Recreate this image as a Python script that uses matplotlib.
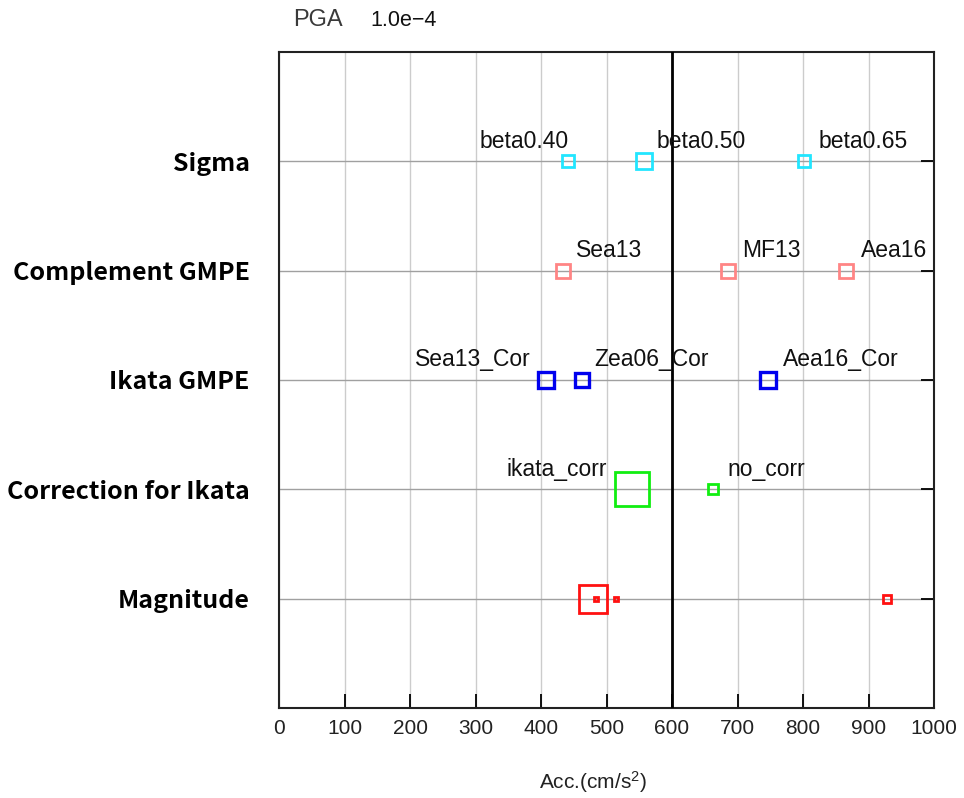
import matplotlib
matplotlib.use('Agg')
import matplotlib.pyplot as plt

plt.rcParams['font.family'] = ['Liberation Sans', 'DejaVu Sans']
plt.rcParams['mathtext.fontset'] = 'custom'
plt.rcParams['mathtext.rm'] = 'Liberation Sans'
plt.rcParams['mathtext.it'] = 'Liberation Sans'

# rows of the chart, bottom to top
groups = ['Magnitude', 'Correction for Ikata', 'Ikata GMPE', 'Complement GMPE', 'Sigma']

sigma_names = ['beta0.40', 'beta0.50', 'beta0.65']
sigma_vals = [441, 558, 801]

comp_names = ['Sea13', 'MF13', 'Aea16']
comp_vals = [433, 685, 866]

ikata_names = ['Sea13_Cor', 'Zea06_Cor', 'Aea16_Cor']
ikata_vals = [407, 463, 746]

corr_names = ['ikata_corr', 'no_corr']
corr_vals = [539, 662]

mag_vals = [479, 484, 514, 928]

x_ticks = [0, 100, 200, 300, 400, 500, 600, 700, 800, 900, 1000]

# styles: marker sizes (pt) and label offsets (px from centre, alignment)
sigma_ms = [9.1, 12.2, 8.6]
sigma_lab = [(1, 'right'), (12, 'left'), (15, 'left')]
comp_ms = [9.5, 10.2, 10.2]
comp_lab = [(13, 'left'), (14, 'left'), (15, 'left')]
ikata_ms = [10.9, 10.2, 10.9]
ikata_lab = [(-15, 'right'), (12, 'left'), (15, 'left')]
corr_ms = [24.6, 7.3]
corr_lab = [(-25, 'right'), (15, 'left')]
mag_ms = [19.6, 3.4, 3.4, 5.9]

fig = plt.figure(figsize=(9.64, 7.98), dpi=100)
ax = fig.add_axes([279/964, 1 - 708/798, 655/964, 656/798])

px = 0.72  # points per pixel at dpi 100


def draw_row(y, vals, names, ms, labs, color, mew=2.0):
    for i, v in enumerate(vals):
        ax.plot([v], [y], marker='s', ms=ms[i], mfc='none', mec=color, mew=mew,
                ls='none', zorder=5)
        if names is not None:
            dx, ha = labs[i]
            ax.annotate(names[i], (v, y), xytext=(dx * px, 13.5 * px),
                        textcoords='offset points', ha=ha, va='baseline',
                        fontsize=16.5, color='#111111', zorder=6)


draw_row(5, sigma_vals, sigma_names, sigma_ms, sigma_lab, '#22e6ff')
draw_row(4, comp_vals, comp_names, comp_ms, comp_lab, '#ff8585')
draw_row(3, ikata_vals, ikata_names, ikata_ms, ikata_lab, '#0000ee', mew=2.4)
draw_row(2, corr_vals, corr_names, corr_ms, corr_lab, '#11ee11')
for i, v in enumerate(mag_vals):
    ax.plot([v], [1], marker='s', ms=mag_ms[i], mfc='none', mec='#ff1111',
            mew=2.0, ls='none', zorder=5)

ax.axvline(600, color='black', lw=2.0, zorder=4)

ax.set_xlim(0, 1000)
ax.set_ylim(0, 6)
ax.set_xticks(x_ticks)
ax.set_xticklabels([str(t) for t in x_ticks], fontsize=15, color='#222222')
ax.set_yticks(range(1, 6))
ax.set_yticklabels(groups, fontsize=18, fontweight='bold',
                   family=['Noto Sans CJK JP', 'DejaVu Sans'])

ax.xaxis.grid(True, color='#cccccc', lw=1.0, zorder=0)
ax.yaxis.grid(True, color='#a0a0a0', lw=1.0, zorder=0)
ax.set_axisbelow(True)

ax.tick_params(axis='x', direction='in', length=10, width=1.3, pad=8,
               top=False, bottom=True)
ax.tick_params(axis='y', direction='in', length=9.5, width=1.3, pad=21,
               left=False, right=True, labelleft=True, labelright=False)
for s in ax.spines.values():
    s.set_linewidth(1.5)
    s.set_color('#222222')

fig.text(293/964, 1 - 26/798, 'PGA', fontsize=17, color='#3a3a3a', va='baseline')
fig.text(370/964, 1 - 26/798, '1.0e\u22124', fontsize=15.5, color='#111111', va='baseline')
fig.text(593/964, 1 - 789/798, 'Acc.(cm/s$^{2}$)', fontsize=15, color='#222222',
         ha='center', va='baseline')

fig.savefig('out.png', dpi=100)
